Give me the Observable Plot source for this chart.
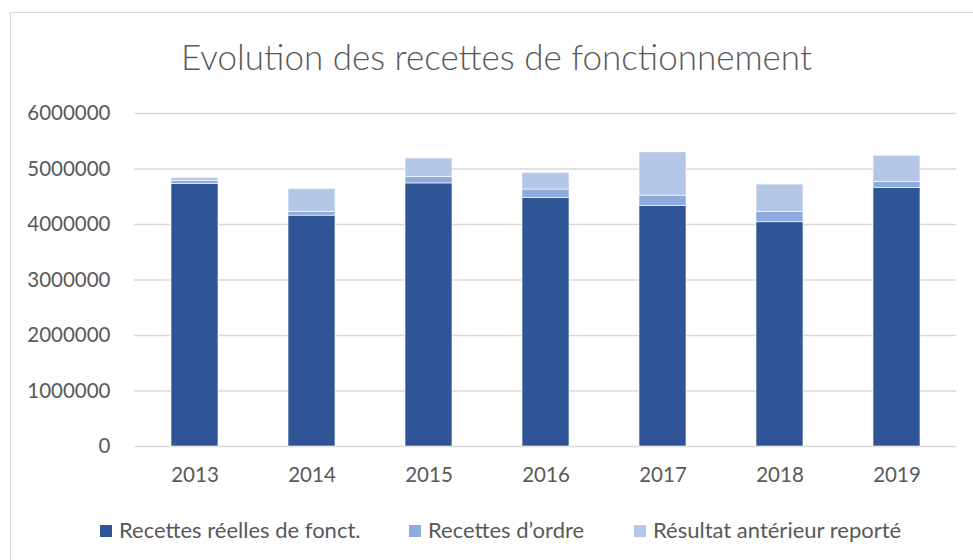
<!DOCTYPE html>
<html>
<head>
<meta charset="utf-8">
<script src="https://cdn.jsdelivr.net/npm/d3@7"></script>
<script src="https://cdn.jsdelivr.net/npm/@observablehq/plot@0.6"></script>
<style>
  html, body { margin: 0; padding: 0; background: #fff; }
  #frame { position: absolute; left: 10px; top: 12px; width: 970px; height: 560px; border: 1.5px solid #d9d9d9; box-sizing: border-box; }
  #title { position: absolute; left: 0; top: 35px; width: 993px; text-align: center; font-family: Lato, "Open Sans", sans-serif; font-weight: 300; font-size: 35px; color: #595959; line-height: 1.2; }
  #chart { position: absolute; left: 0; top: 90px; }
  #legend { position: absolute; left: 0; top: 517px; width: 973px; font-family: Lato, sans-serif; font-size: 22px; color: #595959; line-height: 1.2; }
  .item { position: absolute; top: 0; white-space: nowrap; }
  .sw { display: inline-block; width: 12px; height: 12px; margin-right: 7px; vertical-align: 1px; }
</style>
</head>
<body>
<div id="frame"></div>
<div id="title">Evolution des recettes de fonctionnement</div>
<div id="chart"></div>
<div id="legend"></div>
<script>
const years = ["2013", "2014", "2015", "2016", "2017", "2018", "2019"];
const series = ["Recettes réelles de fonct.", "Recettes d’ordre", "Résultat antérieur reporté"];
const colors = ["#2F5597", "#8FAADC", "#B4C7E7"];
const reelles = [4730000, 4160000, 4740000, 4480000, 4330000, 4040000, 4660000];
const ordre = [55000, 70000, 120000, 150000, 190000, 190000, 110000];
const resultat = [55000, 410000, 330000, 300000, 780000, 490000, 470000];
const yTicks = [0, 1000000, 2000000, 3000000, 4000000, 5000000, 6000000];

const seriesValues = [reelles, ordre, resultat];
const data = [];
years.forEach((yr, i) => {
  series.forEach((s, j) => data.push({year: yr, series: s, value: seriesValues[j][i]}));
});

const plot = Plot.plot({
  width: 973,
  height: 400,
  marginTop: 23,
  marginBottom: 44,
  marginLeft: 134,
  marginRight: 17,
  style: {fontFamily: "Lato, sans-serif", fontSize: "20.5px", color: "#595959", background: "transparent"},
  x: {domain: years, paddingInner: 0.6, paddingOuter: 0.3, label: null, tickSize: 0, tickPadding: 21},
  y: {domain: [0, 6000000], ticks: yTicks, tickFormat: d => String(d), label: null, tickSize: 0, tickPadding: 24},
  color: {domain: series, range: colors},
  marks: [
    Plot.ruleY(yTicks, {stroke: "#d9d9d9", strokeWidth: 1.5}),
    Plot.barY(data, {x: "year", y: "value", fill: "series", order: series, stroke: "#ffffff", strokeWidth: 0.6}),
    Plot.axisX({tickSize: 0, tickPadding: 21, fontSize: 20.5}),
    Plot.axisY({ticks: yTicks, tickFormat: d => String(d), tickSize: 0, tickPadding: 24, fontSize: 20.5})
  ]
});
document.getElementById("chart").appendChild(plot);

const legendPos = [100, 409, 634];
const legend = document.getElementById("legend");
series.forEach((s, i) => {
  const el = document.createElement("div");
  el.className = "item";
  el.style.left = legendPos[i] + "px";
  el.innerHTML = `<span class="sw" style="background:${colors[i]}"></span>${s}`;
  legend.appendChild(el);
});
</script>
</body>
</html>
